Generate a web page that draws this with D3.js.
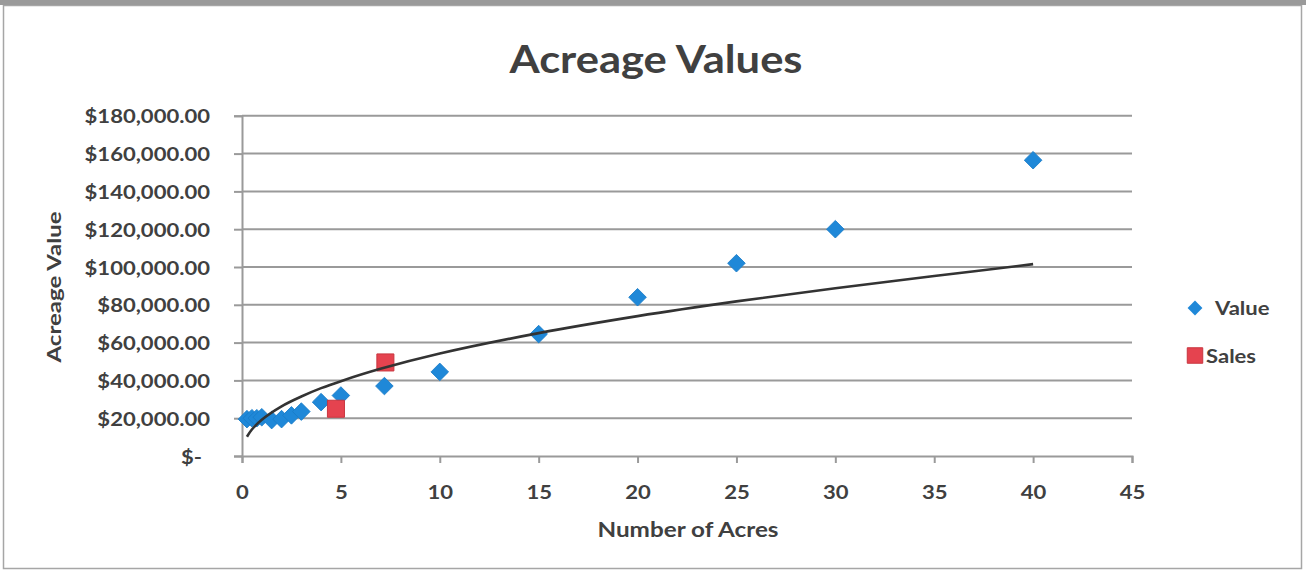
<!DOCTYPE html>
<html>
<head>
<meta charset="utf-8">
<script src="https://cdn.jsdelivr.net/npm/d3@7"></script>
<style>
  html, body { margin: 0; padding: 0; background: #fff; }
  svg { display: block; font-family: Lato, "Open Sans", sans-serif; }
</style>
</head>
<body>
<svg id="chart" width="1306" height="572"></svg>
<script>
// Appraised value per parcel size
const valueAcres  = [0.25, 0.5, 0.75, 1, 1.5, 2, 2.5, 3, 4, 5, 7.2, 10, 15, 20, 25, 30, 40];
const valuePrices = [19500, 20000, 20000, 20500, 19000, 19500, 21500, 23500, 28500, 32000, 37000, 44500, 64500, 84000, 102000, 120000, 156500];

// Recorded sales
const salesAcres  = [4.75, 7.25];
const salesPrices = [25000, 49500];

// Power trendline through the value series
const trendAcres  = [0.25, 0.5, 1, 2, 3, 4, 5, 7, 10, 15, 20, 25, 30, 35, 40];
const trendPrices = [10200, 14000, 19200, 26300, 31500, 35900, 39600, 46100, 54200, 65000, 74000, 81800, 88800, 95200, 101500];

// Axis ticks
const xTicks = [0, 5, 10, 15, 20, 25, 30, 35, 40, 45];
const yTicks = [0, 20000, 40000, 60000, 80000, 100000, 120000, 140000, 160000, 180000];

const svg = d3.select("#chart");
const textColor = "#404040";
const gridColor = "#9a9a9a";
const blue = "#1f88d8";
const red = "#e5434f";

// widen glyphs horizontally to the chart's typeface proportions
function stretch(sel, k) {
  sel.each(function () {
    const w = this.getComputedTextLength();
    this.setAttribute("textLength", w * k);
    this.setAttribute("lengthAdjust", "spacingAndGlyphs");
  });
}
function fitWidth(sel, w) {
  sel.attr("textLength", w).attr("lengthAdjust", "spacingAndGlyphs");
}

// frame
svg.append("rect").attr("x", 0).attr("y", 0).attr("width", 1306).attr("height", 572).attr("fill", "#fff");
svg.append("rect").attr("x", 3.5).attr("y", 5.5).attr("width", 1298).attr("height", 563)
  .attr("fill", "none").attr("stroke", "#a6a6a6").attr("stroke-width", 1.5);
svg.append("rect").attr("x", 0).attr("y", 0).attr("width", 1306).attr("height", 5).attr("fill", "#9a9a9a");

const x = d3.scaleLinear().domain([0, 45]).range([242, 1132]);
const y = d3.scaleLinear().domain([0, 180000]).range([456, 115.8]);

// horizontal gridlines
svg.append("g").selectAll("line").data(yTicks.filter(d => d > 0)).join("line")
  .attr("x1", x(0)).attr("x2", x(45))
  .attr("y1", d => y(d)).attr("y2", d => y(d))
  .attr("stroke", gridColor).attr("stroke-width", 2);

// y axis
const fmtMoney = d3.format(",.2f");
const yAxis = svg.append("g").attr("transform", `translate(${x(0)},0)`)
  .call(d3.axisLeft(y).tickValues(yTicks).tickSizeOuter(0).tickSize(8).tickPadding(24)
    .tickFormat(d => d === 0 ? "$-" : "$" + fmtMoney(d)));
yAxis.select(".domain").attr("stroke", gridColor).attr("stroke-width", 2);
yAxis.selectAll(".tick line").attr("stroke", gridColor).attr("stroke-width", 2);
yAxis.selectAll(".tick text")
  .attr("fill", textColor).attr("font-size", 19.5).attr("font-weight", "bold")
  .attr("font-family", "Lato, sans-serif")
  .attr("dy", "0.36em")
  .call(stretch, 1.13);
yAxis.selectAll(".tick").filter(d => d === 0).select("text").attr("dx", -8);

// x axis
const xAxis = svg.append("g").attr("transform", `translate(0,${y(0)})`)
  .call(d3.axisBottom(x).tickValues(xTicks).tickSizeOuter(0).tickSize(7).tickPadding(36)
    .tickFormat(d3.format("d")));
xAxis.select(".domain").attr("stroke", gridColor).attr("stroke-width", 2);
xAxis.selectAll(".tick line").attr("stroke", gridColor).attr("stroke-width", 2);
xAxis.selectAll(".tick text")
  .attr("fill", textColor).attr("font-size", 19.5).attr("font-weight", "bold")
  .attr("font-family", "Lato, sans-serif")
  .attr("dy", "0")
  .call(stretch, 1.13);

// value series: diamonds
const diamond = d3.symbol().type(d3.symbolSquare).size(155);
svg.append("g").selectAll("path").data(valueAcres.map((a, i) => [a, valuePrices[i]])).join("path")
  .attr("d", diamond)
  .attr("transform", d => `translate(${x(d[0])},${y(d[1])}) rotate(45)`)
  .attr("fill", blue).attr("stroke", "#1a7cc8").attr("stroke-width", 0.8);

// sales series: squares
const square = d3.symbol().type(d3.symbolSquare).size(290);
svg.append("g").selectAll("path").data(salesAcres.map((a, i) => [a, salesPrices[i]])).join("path")
  .attr("d", square)
  .attr("transform", d => `translate(${x(d[0])},${y(d[1])})`)
  .attr("fill", red).attr("stroke", "#c8363f").attr("stroke-width", 1);

// trendline
const line = d3.line().x(d => x(d[0])).y(d => y(d[1])).curve(d3.curveCatmullRom.alpha(0.5));
svg.append("path").datum(trendAcres.map((a, i) => [a, trendPrices[i]]))
  .attr("d", line).attr("fill", "none").attr("stroke", "#333").attr("stroke-width", 2.6);

// title
svg.append("text").attr("x", 656).attr("y", 73).attr("text-anchor", "middle")
  .attr("font-size", 39).attr("font-weight", "bold").attr("fill", textColor)
  .text("Acreage Values").call(fitWidth, 293);

// axis titles
svg.append("text").attr("x", 688).attr("y", 537).attr("text-anchor", "middle")
  .attr("font-size", 20).attr("font-weight", "bold").attr("fill", textColor)
  .text("Number of Acres").call(fitWidth, 181);

svg.append("text").attr("transform", "translate(61,287) rotate(-90)").attr("text-anchor", "middle")
  .attr("font-size", 19.5).attr("font-weight", "bold").attr("fill", textColor)
  .text("Acreage Value").call(fitWidth, 151);

// legend
const legend = svg.append("g");
legend.append("path").attr("d", d3.symbol().type(d3.symbolSquare).size(110))
  .attr("transform", "translate(1195,308) rotate(45)").attr("fill", blue);
legend.append("text").attr("x", 1215).attr("y", 315)
  .attr("font-size", 19.5).attr("font-weight", "bold").attr("fill", textColor)
  .text("Value").call(stretch, 1.13);
legend.append("path").attr("d", d3.symbol().type(d3.symbolSquare).size(240))
  .attr("transform", "translate(1195,355.5)").attr("fill", red).attr("stroke", "#c8363f");
legend.append("text").attr("x", 1206).attr("y", 363)
  .attr("font-size", 19.5).attr("font-weight", "bold").attr("fill", textColor)
  .text("Sales").call(stretch, 1.13);
</script>
</body>
</html>
